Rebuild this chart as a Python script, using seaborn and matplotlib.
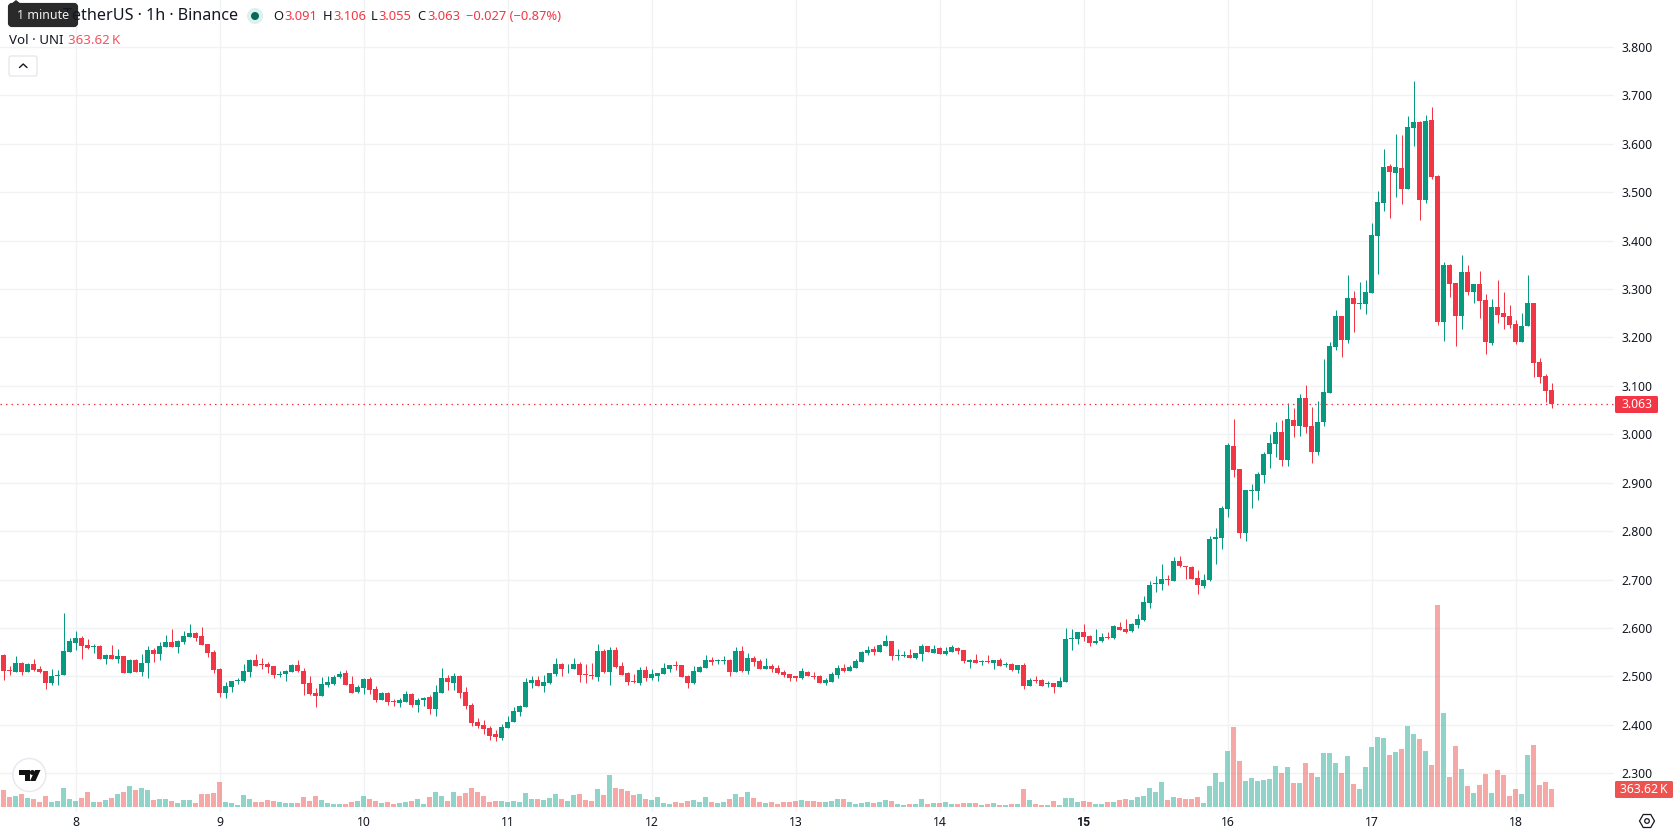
import numpy as np
import pandas as pd
import matplotlib
matplotlib.use("Agg")
import matplotlib.pyplot as plt
from matplotlib.patches import Circle, FancyBboxPatch, Polygon, RegularPolygon
import seaborn as sns

# Hourly UNI/USDT candles, starting at noon on the 7th
opens = [
    2.544,2.513,2.509,2.528,2.509,2.526,2.515,2.511,2.486,2.501,
    2.503,2.551,2.569,2.580,2.565,2.561,2.563,2.536,2.544,2.536,
    2.542,2.507,2.534,2.509,2.528,2.555,2.546,2.561,2.571,2.561,
    2.571,2.582,2.590,2.584,2.567,2.551,2.515,2.466,2.478,2.491,
    2.491,2.509,2.534,2.526,2.526,2.522,2.503,2.505,2.509,2.524,
    2.511,2.486,2.466,2.460,2.482,2.484,2.499,2.507,2.484,2.468,
    2.476,2.495,2.474,2.451,2.466,2.450,2.445,2.447,2.464,2.441,
    2.452,2.458,2.433,2.466,2.497,2.486,2.501,2.468,2.441,2.406,
    2.400,2.393,2.381,2.373,2.393,2.406,2.426,2.437,2.486,2.493,
    2.480,2.486,2.505,2.526,2.519,2.515,2.526,2.505,2.503,2.499,
    2.553,2.509,2.555,2.522,2.507,2.491,2.486,2.513,2.497,2.501,
    2.505,2.515,2.524,2.524,2.501,2.486,2.509,2.517,2.534,2.532,
    2.532,2.534,2.509,2.553,2.511,2.538,2.532,2.515,2.522,2.517,
    2.509,2.505,2.501,2.497,2.509,2.501,2.501,2.486,2.489,2.503,
    2.517,2.511,2.517,2.530,2.549,2.557,2.551,2.563,2.573,2.542,
    2.542,2.544,2.538,2.546,2.563,2.549,2.559,2.546,2.551,2.559,
    2.555,2.530,2.534,2.530,2.532,2.528,2.534,2.524,2.526,2.513,
    2.524,2.480,2.493,2.493,2.484,2.486,2.478,2.489,2.578,2.578,
    2.592,2.584,2.569,2.573,2.582,2.580,2.602,2.598,2.594,2.607,
    2.617,2.652,2.690,2.690,2.702,2.698,2.739,2.729,2.727,2.704,
    2.686,2.699,2.783,2.786,2.846,2.976,2.928,2.796,2.883,2.883,
    2.916,2.959,2.980,3.005,2.947,3.030,3.017,3.075,3.017,2.964,
    3.026,3.086,3.181,3.245,3.195,3.282,3.269,3.269,3.292,3.410,
    3.478,3.554,3.540,3.550,3.507,3.633,3.645,3.484,3.649,3.534,
    3.232,3.350,3.313,3.245,3.335,3.294,3.311,3.278,3.189,3.263,
    3.251,3.245,3.228,3.191,3.224,3.271,3.150,3.121,3.091,
]
highs = [
    2.546,2.522,2.542,2.530,2.528,2.536,2.522,2.511,2.515,2.513,
    2.631,2.580,2.594,2.584,2.578,2.567,2.565,2.546,2.565,2.557,
    2.542,2.536,2.536,2.546,2.563,2.559,2.571,2.586,2.598,2.575,
    2.594,2.609,2.592,2.602,2.567,2.555,2.517,2.489,2.491,2.497,
    2.526,2.536,2.546,2.538,2.530,2.522,2.511,2.513,2.526,2.534,
    2.517,2.501,2.476,2.499,2.501,2.503,2.511,2.513,2.501,2.482,
    2.497,2.499,2.480,2.468,2.468,2.453,2.455,2.470,2.466,2.455,
    2.458,2.462,2.482,2.517,2.503,2.507,2.503,2.478,2.445,2.414,
    2.410,2.397,2.389,2.402,2.418,2.437,2.441,2.497,2.501,2.501,
    2.503,2.507,2.538,2.528,2.526,2.538,2.530,2.526,2.528,2.567,
    2.557,2.561,2.561,2.530,2.509,2.505,2.520,2.522,2.515,2.507,
    2.528,2.524,2.532,2.524,2.503,2.522,2.522,2.544,2.540,2.536,
    2.542,2.536,2.561,2.563,2.549,2.542,2.536,2.538,2.526,2.524,
    2.513,2.505,2.501,2.517,2.511,2.509,2.503,2.497,2.509,2.524,
    2.526,2.524,2.536,2.553,2.563,2.563,2.567,2.586,2.573,2.557,
    2.553,2.557,2.549,2.567,2.563,2.565,2.561,2.561,2.565,2.561,
    2.555,2.536,2.546,2.534,2.544,2.534,2.538,2.530,2.528,2.524,
    2.528,2.497,2.501,2.495,2.491,2.486,2.499,2.600,2.598,2.592,
    2.609,2.586,2.598,2.590,2.592,2.607,2.613,2.619,2.611,2.629,
    2.667,2.698,2.708,2.733,2.710,2.746,2.748,2.729,2.729,2.719,
    2.711,2.790,2.806,2.852,2.982,3.032,2.928,2.885,2.897,2.922,
    2.964,3.001,3.026,3.030,3.065,3.055,3.084,3.102,3.057,3.069,
    3.156,3.191,3.257,3.245,3.329,3.296,3.315,3.319,3.436,3.503,
    3.589,3.558,3.620,3.618,3.657,3.730,3.647,3.659,3.676,3.536,
    3.356,3.352,3.313,3.370,3.350,3.311,3.337,3.290,3.280,3.319,
    3.294,3.267,3.236,3.251,3.329,3.271,3.158,3.125,3.106,
]
lows = [
    2.493,2.503,2.509,2.503,2.509,2.511,2.507,2.474,2.482,2.482,
    2.503,2.551,2.555,2.536,2.557,2.549,2.536,2.526,2.536,2.528,
    2.507,2.507,2.509,2.501,2.497,2.530,2.534,2.561,2.561,2.549,
    2.567,2.582,2.573,2.565,2.540,2.507,2.458,2.455,2.468,2.484,
    2.489,2.499,2.522,2.515,2.507,2.497,2.499,2.491,2.509,2.509,
    2.462,2.462,2.437,2.460,2.478,2.482,2.497,2.482,2.466,2.466,
    2.464,2.464,2.447,2.451,2.441,2.439,2.437,2.447,2.437,2.426,
    2.439,2.422,2.418,2.466,2.472,2.472,2.455,2.433,2.397,2.393,
    2.381,2.369,2.366,2.369,2.393,2.406,2.418,2.437,2.476,2.480,
    2.468,2.484,2.501,2.501,2.507,2.515,2.489,2.486,2.495,2.491,
    2.507,2.482,2.517,2.503,2.482,2.486,2.482,2.491,2.493,2.491,
    2.505,2.509,2.513,2.499,2.476,2.484,2.509,2.517,2.524,2.526,
    2.526,2.501,2.509,2.509,2.505,2.522,2.515,2.515,2.509,2.505,
    2.499,2.491,2.491,2.495,2.501,2.495,2.486,2.482,2.489,2.497,
    2.509,2.511,2.517,2.530,2.544,2.544,2.551,2.563,2.534,2.534,
    2.540,2.538,2.536,2.532,2.551,2.549,2.546,2.544,2.551,2.546,
    2.528,2.517,2.528,2.524,2.528,2.515,2.522,2.520,2.511,2.507,
    2.474,2.480,2.486,2.480,2.478,2.466,2.478,2.489,2.555,2.567,
    2.573,2.563,2.567,2.571,2.578,2.578,2.596,2.590,2.592,2.600,
    2.615,2.642,2.675,2.679,2.688,2.698,2.725,2.702,2.702,2.671,
    2.682,2.697,2.732,2.763,2.829,2.912,2.786,2.779,2.848,2.864,
    2.899,2.930,2.953,2.935,2.935,2.995,2.997,3.003,2.941,2.957,
    3.017,3.086,3.174,3.160,3.189,3.212,3.259,3.249,3.292,3.331,
    3.461,3.447,3.490,3.476,3.507,3.595,3.443,3.478,3.527,3.226,
    3.193,3.284,3.183,3.218,3.288,3.271,3.240,3.166,3.185,3.230,
    3.218,3.220,3.187,3.191,3.224,3.119,3.106,3.067,3.055,
]
closes = [
    2.512,2.511,2.528,2.509,2.526,2.513,2.509,2.486,2.501,2.503,
    2.553,2.573,2.580,2.563,2.559,2.563,2.536,2.544,2.536,2.542,
    2.507,2.534,2.509,2.528,2.555,2.546,2.563,2.571,2.561,2.573,
    2.584,2.590,2.580,2.565,2.549,2.513,2.466,2.480,2.491,2.493,
    2.511,2.534,2.522,2.524,2.520,2.503,2.505,2.511,2.524,2.511,
    2.484,2.464,2.460,2.484,2.489,2.499,2.505,2.482,2.466,2.478,
    2.495,2.472,2.451,2.466,2.447,2.448,2.451,2.464,2.441,2.451,
    2.455,2.433,2.468,2.497,2.489,2.501,2.466,2.439,2.404,2.397,
    2.391,2.377,2.375,2.395,2.406,2.429,2.439,2.489,2.493,2.480,
    2.489,2.507,2.526,2.515,2.520,2.526,2.503,2.503,2.501,2.553,
    2.509,2.555,2.520,2.503,2.489,2.489,2.513,2.497,2.505,2.507,
    2.517,2.524,2.522,2.499,2.486,2.511,2.520,2.534,2.530,2.534,
    2.534,2.509,2.553,2.511,2.538,2.530,2.515,2.522,2.515,2.507,
    2.503,2.497,2.497,2.511,2.501,2.499,2.486,2.493,2.505,2.517,
    2.511,2.520,2.532,2.551,2.555,2.551,2.565,2.573,2.542,2.544,
    2.544,2.538,2.549,2.563,2.551,2.557,2.546,2.553,2.561,2.553,
    2.532,2.534,2.528,2.532,2.530,2.534,2.522,2.526,2.513,2.524,
    2.480,2.493,2.491,2.480,2.486,2.478,2.491,2.578,2.580,2.592,
    2.582,2.569,2.573,2.582,2.580,2.604,2.596,2.592,2.609,2.619,
    2.654,2.689,2.692,2.702,2.700,2.739,2.729,2.725,2.702,2.688,
    2.699,2.783,2.788,2.848,2.978,2.926,2.796,2.885,2.885,2.918,
    2.959,2.982,3.005,2.947,3.032,3.017,3.075,3.015,2.964,3.026,
    3.088,3.183,3.245,3.195,3.282,3.269,3.271,3.294,3.412,3.480,
    3.552,3.542,3.552,3.507,3.635,3.645,3.484,3.647,3.531,3.232,
    3.350,3.311,3.245,3.335,3.294,3.311,3.276,3.191,3.263,3.247,
    3.243,3.226,3.191,3.224,3.271,3.147,3.119,3.090,3.063,
]
# Traded volume per hour, thousands of UNI
volumes_k = [
    343,202,222,262,182,162,101,222,101,121,384,162,121,182,303,101,101,141,182,262,
    303,424,343,384,343,141,162,162,121,81,141,141,81,262,262,283,505,101,81,40,
    242,162,101,101,141,121,101,81,81,81,202,121,222,141,81,61,61,61,101,121,
    222,162,121,81,101,61,81,101,121,162,61,202,303,222,121,303,222,283,384,303,
    222,101,121,121,101,121,101,283,162,162,141,182,262,162,121,242,262,141,121,363,
    242,646,384,363,323,242,262,162,141,202,81,61,101,81,121,141,101,202,101,81,
    101,162,262,202,303,182,101,81,101,61,101,101,121,141,121,121,101,101,121,162,
    162,101,61,81,101,81,101,141,121,61,40,61,61,162,61,81,81,101,61,61,
    81,81,81,40,61,81,40,40,61,61,363,141,61,40,40,121,40,182,182,101,
    121,101,61,61,101,101,141,162,141,202,222,384,303,505,141,202,182,162,162,202,
    81,424,686,505,1131,1615,929,525,586,525,545,565,828,686,808,485,485,888,686,606,
    1090,1090,888,686,1030,464,363,808,1211,1413,1393,1050,1110,1171,1635,1474,1373,1131,848,4078,
    1898,606,1232,767,424,283,444,666,283,747,646,222,363,262,1050,1252,444,505,363.62,
]
day_labels = ["8", "9", "10", "11", "12", "13", "14", "15", "16", "17", "18"]
price_ticks = [2.3, 2.4, 2.5, 2.6, 2.7, 2.8, 2.9, 3.0, 3.1, 3.2, 3.3, 3.4, 3.5, 3.6, 3.7, 3.8]
last_price = closes[-1]

UP, DOWN = "#089981", "#F23645"
UP_VOL, DOWN_VOL = "#22AB94", "#EF5350"
GRID = "#F1F2F4"
INK = "#131722"

candles = pd.DataFrame({"open": opens, "high": highs, "low": lows,
                        "close": closes, "volume": volumes_k})
candles["hour"] = np.arange(len(candles))
candles["direction"] = np.where(candles["close"] >= candles["open"], "up", "down")
candle_colors = candles["direction"].map({"up": UP, "down": DOWN}).tolist()

sns.set_theme(style="white")
plt.rcParams["font.family"] = ["Noto Sans", "DejaVu Sans"]

W, H, PANE_RIGHT, PANE_BOTTOM = 1678, 835, 1614, 812
fig = plt.figure(figsize=(W / 100, H / 100), dpi=100, facecolor="white")
rect = [0, 1 - PANE_BOTTOM / H, PANE_RIGHT / W, PANE_BOTTOM / H]
ax = fig.add_axes(rect)
ax_vol = ax.twinx()

# Volume histogram on its own scale along the bottom of the pane
sns.barplot(data=candles, x="hour", y="volume", hue="direction",
            palette={"up": UP_VOL, "down": DOWN_VOL}, native_scale=True, dodge=False,
            width=5 / 6, gap=0, alpha=0.5, saturation=1, errorbar=None, legend=False,
            linewidth=0, edgecolor="none", ax=ax_vol)
ax_vol.set_ylim(-101, 16301)
ax_vol.axis("off")
ax_vol.patch.set_visible(False)

# Candles: one wick and one body per hour
ax.vlines(candles["hour"], candles["low"], candles["high"], colors=candle_colors,
          linewidth=0.72, zorder=3)
ax.bar(candles["hour"], (candles["close"] - candles["open"]).abs(),
       bottom=candles[["open", "close"]].min(axis=1), width=5 / 6,
       color=candle_colors, linewidth=0, zorder=4)
ax.axhline(last_price, color=DOWN, linewidth=0.9, linestyle=(0, (1.2, 3.2)), zorder=5)

ax.set_ylim(2.2201, 3.8968)
ax.set_xlim(-3.5 / 6, (PANE_RIGHT - 3.5) / 6)
ax.set_yticks(price_ticks)
ax.set_yticklabels([f"{p:.3f}" for p in price_ticks])
ax.yaxis.tick_right()
ax.set_xticks(np.arange(len(day_labels)) * 24 + 12)
ax.set_xticklabels(day_labels)
ax.set_xlabel("")
ax.set_ylabel("")
ax.tick_params(axis="y", length=0, pad=5.5, labelsize=8.8, labelcolor=INK)
ax.tick_params(axis="x", length=0, pad=3, labelsize=8.8, labelcolor=INK)
for tick_label in ax.get_xticklabels():
    if tick_label.get_text() == "15":
        tick_label.set_family("Roboto")
        tick_label.set_fontweight("bold")
ax.grid(True, color=GRID, linewidth=1.0)
ax.set_axisbelow(True)
for side in ax.spines.values():
    side.set_visible(False)
ax.set_zorder(1)
ax_vol.set_zorder(2)

# Interface furniture, laid out in pixel coordinates above the chart
ui = fig.add_axes([0, 0, 1, 1], zorder=5)
ui.set_xlim(0, W)
ui.set_ylim(H, 0)
ui.axis("off")
ui.patch.set_visible(False)


def label(x, y, s, size=9.4, color=INK, ha="left", **kw):
    ui.text(x, y, s, fontsize=size, color=color, ha=ha, va="center", **kw)


# Symbol title, its first letter under the tooltip
label(238, 16, "TetherUS · 1h · Binance", size=11.6, ha="right")
ui.add_patch(Polygon([[11, 4], [16, 0], [21, 4]], closed=True, color="#2A2A2A", lw=0))
ui.add_patch(FancyBboxPatch((10, 5), 66, 20, boxstyle="round,pad=0,rounding_size=2",
                            facecolor="#2A2A2A", edgecolor="#2A2A2A", linewidth=3.0))
label(43, 15.5, "1 minute", size=9.0, color="#F0F0F0", ha="center")

ui.add_patch(Circle((255, 16), 8, color="#DDF0EC", lw=0))
ui.add_patch(Circle((255, 16), 4, color="#07685A", lw=0))
for x_key, key, x_val, val in [(273, "O", 284, "3.091"), (323, "H", 333, "3.106"),
                               (371, "L", 378.5, "3.055"), (417, "C", 427, "3.063")]:
    label(x_key, 16.5, key, size=9.3)
    label(x_val, 16.5, val, size=9.3, color=DOWN)
label(466, 16.5, "\u22120.027 (\u22120.87%)", size=9.3, color=DOWN)

label(9, 40.5, "Vol · UNI", size=9.6)
label(68, 40.5, "363.62\u202fK", size=9.6, color="#F7525F")

ui.add_patch(FancyBboxPatch((9, 56), 28, 20, boxstyle="round,pad=0,rounding_size=2",
                            facecolor="white", edgecolor="#E0E3EB", linewidth=0.8))
ui.plot([19.5, 23.2, 27], [67.5, 64, 67.5], color=INK, lw=1.0)

# Price and volume tags on the scale
ui.add_patch(FancyBboxPatch((1615, 396), 43, 17, boxstyle="round,pad=0,rounding_size=1.5",
                            facecolor=DOWN, edgecolor="none"))
label(1636.5, 404.5, "3.063", size=8.8, color="white", ha="center")
ui.add_patch(FancyBboxPatch((1615, 781), 58, 17, boxstyle="round,pad=0,rounding_size=1.5",
                            facecolor="#EF5350", edgecolor="none"))
label(1644, 789.5, "363.62\u202fK", size=8.8, color="white", ha="center")

# Scale settings button
ui.add_patch(RegularPolygon((1647, 821), 6, radius=7.5, orientation=np.pi / 6,
                            facecolor="none", edgecolor=INK, linewidth=0.9))
ui.add_patch(Circle((1647, 821), 2.3, facecolor="none", edgecolor=INK, linewidth=0.9))

# Logo badge
ui.add_patch(Circle((29.3, 775), 16.5, facecolor="white", edgecolor="#E6E8EE", linewidth=1.0))
ui.add_patch(Polygon([[19, 770], [29.5, 770], [29.5, 781], [24.5, 781], [24.5, 775], [19, 775]],
                     closed=True, color="#111111", lw=0))
ui.add_patch(Circle((32.3, 772.5), 2.5, color="#111111", lw=0))
ui.add_patch(Polygon([[35, 770], [40.5, 770], [35.5, 781], [30, 781]], closed=True,
                     color="#111111", lw=0))

fig.savefig("out.png", dpi=100, facecolor="white")
